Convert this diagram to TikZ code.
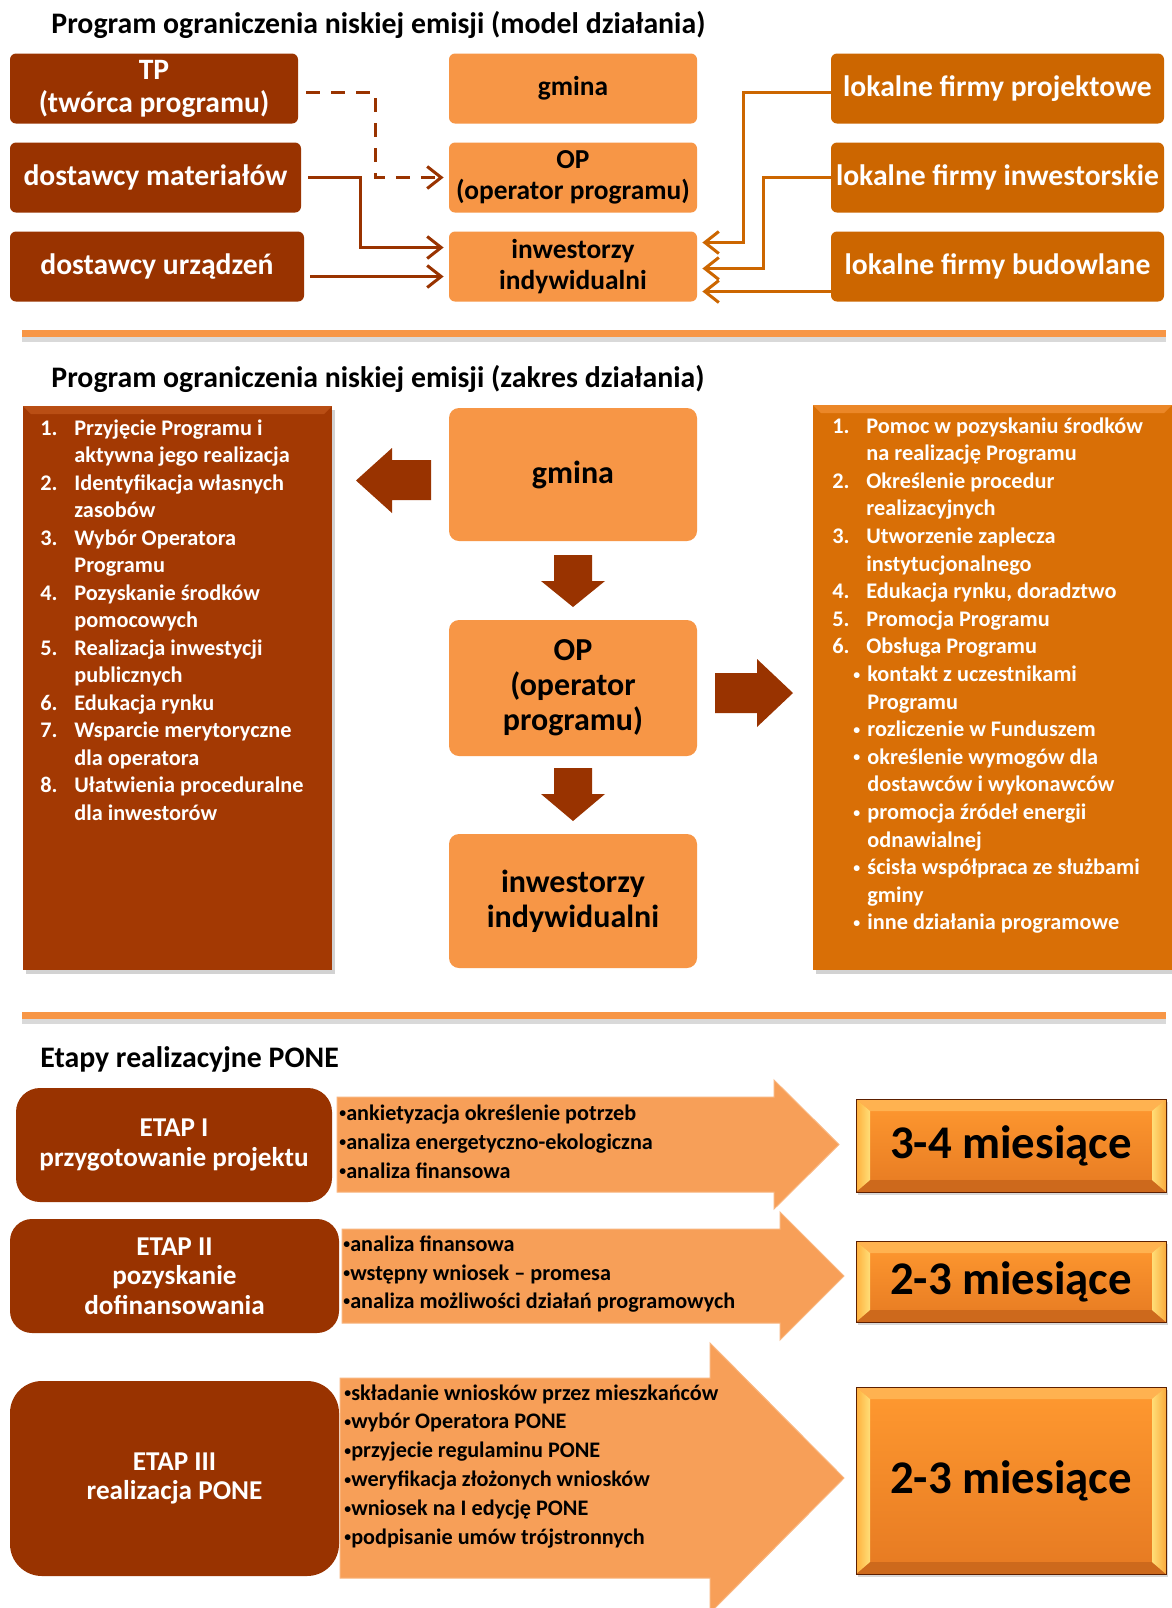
\documentclass[tikz,border=0pt]{standalone}
\usepackage{fontspec}
\setmainfont{Carlito}
\usetikzlibrary{arrows.meta,shadows,calc}
\definecolor{dbrown}{RGB}{153,51,0}
\definecolor{lorange}{RGB}{247,150,70}
\definecolor{morange}{RGB}{204,102,0}
\definecolor{lbrown}{RGB}{163,57,3}
\definecolor{lbrowntop}{RGB}{185,78,20}
\definecolor{rorange}{RGB}{217,111,6}
\definecolor{rorangetop}{RGB}{235,135,40}
\definecolor{aorange}{RGB}{247,159,88}
\definecolor{bvtop}{RGB}{255,153,48}
\definecolor{bvbot}{RGB}{230,122,34}
\definecolor{bvT}{RGB}{255,178,80}
\definecolor{bvB}{RGB}{205,105,28}
\definecolor{bvS1}{RGB}{255,176,60}
\definecolor{bvS2}{RGB}{255,222,120}
\definecolor{bvS3}{RGB}{250,170,60}
\newcommand{\numbx}[1]{\makebox[17pt][l]{#1}}
\newcommand{\smbul}{\raisebox{0.1em}{\scalebox{0.62}{•}}}
\newcommand{\bulbx}{\makebox[7pt][l]{\smbul}}
\begin{document}
\begin{tikzpicture}[x=0.5pt,y=-0.5pt,
 tbox/.style={rounded corners=3pt, minimum height=35pt, inner sep=0pt, align=center},
 darkbox/.style={tbox, fill=dbrown, text=white, font=\fontsize{14.8}{16.5}\selectfont\bfseries},
 lightbox/.style={tbox, fill=lorange, text=black, minimum width=124pt, font=\fontsize{13.7}{15.2}\selectfont\bfseries},
 midbox/.style={tbox, fill=morange, text=white, minimum width=166.5pt, font=\fontsize{14.8}{16.5}\selectfont\bfseries},
 conn/.style={line width=1.5pt, -{Straight Barb[length=7pt,width=11pt]}},
 ttl/.style={anchor=base west, inner sep=0pt, font=\fontsize{14.9}{17}\selectfont\bfseries},
 sep/.style={line width=3.5pt, lorange},
 sepsh/.style={line width=3.5pt, black, opacity=0.15},
 bigbox/.style={inner sep=0pt, drop shadow={opacity=0.35, shadow xshift=1.5pt, shadow yshift=-2pt}},
 cbox/.style={rounded corners=5pt, fill=lorange, minimum width=124pt, inner sep=0pt, align=center, font=\fontsize{16}{17.5}\selectfont\bfseries},
 blk/.style={fill=dbrown},
 ltxt/.style={anchor=base west, inner sep=0pt, text=white, font=\fontsize{11.15}{13}\selectfont\bfseries},
 atxt/.style={anchor=base west, inner sep=0pt, text=black, font=\fontsize{11.1}{13}\selectfont\bfseries},
 etap/.style={fill=dbrown, text=white, inner sep=0pt, align=center, font=\fontsize{13.6}{14.8}\selectfont\bfseries},
 barrow/.style={fill=aorange, draw=lorange!70!white, line width=0.5pt},
 bevel/.style={draw=dbrown!60!black, line width=0.4pt, inner sep=0pt, top color=bvtop, bottom color=bvbot,
   font=\fontsize{23.4}{26}\selectfont\bfseries, text=black,
   drop shadow={opacity=0.3, shadow xshift=1pt, shadow yshift=-1.5pt},
   path picture={
    \coordinate (NW) at (path picture bounding box.north west);
    \coordinate (NE) at (path picture bounding box.north east);
    \coordinate (SW) at (path picture bounding box.south west);
    \coordinate (SE) at (path picture bounding box.south east);
    \fill[bvT] (NW) -- (NE) -- ([xshift=-7pt,yshift=-6pt]NE) -- ([xshift=7pt,yshift=-6pt]NW) -- cycle;
    \fill[bvB] (SW) -- (SE) -- ([xshift=-7pt,yshift=6pt]SE) -- ([xshift=7pt,yshift=6pt]SW) -- cycle;
    \shade[left color=bvS1, right color=bvS2] (NW) -- ([xshift=7pt,yshift=-6pt]NW) -- ([xshift=7pt,yshift=6pt]SW) -- (SW) -- cycle;
    \shade[left color=bvS2, right color=bvS3] (NE) -- ([xshift=-7pt,yshift=-6pt]NE) -- ([xshift=-7pt,yshift=6pt]SE) -- (SE) -- cycle;
   }},
 topstrip/.style={path picture={\fill[#1] (path picture bounding box.north west) -- (path picture bounding box.north east) -- ([xshift=-4pt,yshift=-4pt]path picture bounding box.north east) -- ([xshift=4pt,yshift=-4pt]path picture bounding box.north west) -- cycle;}}
]
\useasboundingbox[fill=white] (0,0) rectangle (1172,1608);

% ---------- Section 1 ----------
\node[ttl] (t1) at (51,33) {Program ograniczenia niskiej emisji (model działania)};

\node[darkbox, minimum width=144pt] (tp) at (154,88.5) {TP\\(twórca programu)};
\node[darkbox, minimum width=145.5pt] (dm) at (155.5,177.5) {dostawcy materiałów};
\node[darkbox, minimum width=147pt] (du) at (157,266.5) {dostawcy urządzeń};

\node[lightbox] (gm) at (573,88.5) {gmina};
\node[lightbox] (op) at (573,177.5) {OP\\(operator programu)};
\node[lightbox] (inw) at (573,266.5) {inwestorzy\\indywidualni};

\node[midbox] (fp) at (997.5,88.5) {lokalne firmy projektowe};
\node[midbox] (fi) at (997.5,177.5) {lokalne firmy inwestorskie};
\node[midbox] (fb) at (997.5,266.5) {lokalne firmy budowlane};

\draw[conn, dbrown, dash pattern=on 7pt off 5.5pt] ([xshift=4pt,yshift=-1.75pt]tp.east) -- ++(69,0) |- ([xshift=-2.5pt]op.west);
\draw[conn, dbrown] ([xshift=3.5pt]dm.east) -- ++(52,0) |- ([xshift=-2.5pt,yshift=9.5pt]inw.west);
\draw[conn, dbrown] ([xshift=3pt,yshift=-5pt]du.east) -- ([xshift=-2.5pt,yshift=-5pt]inw.west);

\draw[conn, morange] ([yshift=-1.75pt]fp.west) -- ++(-87,0) |- ([xshift=2.5pt,yshift=12pt]inw.east);
\draw[conn, morange] (fi.west) -- ++(-67,0) |- ([xshift=2.5pt,yshift=-1pt]inw.east);
\draw[conn, morange] ([yshift=-12.5pt]fb.west) -- ([xshift=2.5pt,yshift=-12.5pt]inw.east);

\coordinate (s1a) at (22,333.5);
\coordinate (s1b) at (1166,333.5);
\draw[sepsh] ([yshift=-2.5pt]s1a) -- ([yshift=-2.5pt]s1b);
\draw[sep] (s1a) -- (s1b);

% ---------- Section 2 ----------
\node[ttl] (t2) at (51,387) {Program ograniczenia niskiej emisji (zakres działania)};

\node[bigbox, fill=lbrown, minimum width=154.5pt, minimum height=282pt, topstrip=lbrowntop] (lb) at (177.5,688) {};
\node[bigbox, fill=rorange, minimum width=179.5pt, minimum height=282.5pt, topstrip=rorangetop] (rb) at (992.5,687.5) {};

\node[cbox, minimum height=66.5pt] (g2) at (573,474.5) {gmina};
\node[cbox, minimum height=68pt] (o2) at (573,688) {OP\\(operator\\programu)};
\node[cbox, minimum height=67pt] (i2) at (573,901) {inwestorzy\\indywidualni};

\fill[blk] (431,460) -- (392,460) -- (392,448) -- (356,480.5) -- (392,513) -- (392,500) -- (431,500) -- cycle;
\fill[blk] (554,555) -- (592,555) -- (592,581) -- (605,581) -- (573,607) -- (541,581) -- (554,581) -- cycle;
\fill[blk] (554,768) -- (592,768) -- (592,794) -- (605,794) -- (573,821) -- (541,794) -- (554,794) -- cycle;
\fill[blk] (715,673) -- (757,673) -- (757,659) -- (793,693) -- (757,727) -- (757,713) -- (715,713) -- cycle;

\foreach \xx/\txt [count=\i from 0] in {
  40/{\numbx{1.}Przyjęcie Programu i},
  74/{aktywna jego realizacja},
  40/{\numbx{2.}Identyfikacja własnych},
  74/{zasobów},
  40/{\numbx{3.}Wybór Operatora},
  74/{Programu},
  40/{\numbx{4.}Pozyskanie środków},
  74/{pomocowych},
  40/{\numbx{5.}Realizacja inwestycji},
  74/{publicznych},
  40/{\numbx{6.}Edukacja rynku},
  40/{\numbx{7.}Wsparcie merytoryczne},
  74/{dla operatora},
  40/{\numbx{8.}Ułatwienia proceduralne},
  74/{dla inwestorów}}
  \node[ltxt] (L\i) at ({\xx},{435+27.5*\i}) {\txt};

\foreach \xx/\txt [count=\i from 0] in {
  832/{\numbx{1.}Pomoc w pozyskaniu środków},
  866/{na realizację Programu},
  832/{\numbx{2.}Określenie procedur},
  866/{realizacyjnych},
  832/{\numbx{3.}Utworzenie zaplecza},
  866/{instytucjonalnego},
  832/{\numbx{4.}Edukacja rynku, doradztwo},
  832/{\numbx{5.}Promocja Programu},
  832/{\numbx{6.}Obsługa Programu},
  853/{\bulbx kontakt z uczestnikami},
  867/{Programu},
  853/{\bulbx rozliczenie w Funduszem},
  853/{\bulbx określenie wymogów dla},
  867/{dostawców i wykonawców},
  853/{\bulbx promocja źródeł energii},
  867/{odnawialnej},
  853/{\bulbx ścisła współpraca ze służbami},
  867/{gminy},
  853/{\bulbx inne działania programowe}}
  \node[ltxt] (R\i) at ({\xx},{433+27.6*\i}) {\txt};

\coordinate (s2a) at (22,1015);
\coordinate (s2b) at (1166,1015);
\draw[sepsh] ([yshift=-2.5pt]s2a) -- ([yshift=-2.5pt]s2b);
\draw[sep] (s2a) -- (s2b);

% ---------- Section 3 ----------
\node[ttl] (t3) at (40,1067) {Etapy realizacyjne PONE};

\fill[barrow] (337,1097) -- (774,1097) -- (774,1080) -- (839,1144.5) -- (774,1209) -- (774,1192) -- (337,1192) -- cycle;
\fill[barrow] (342,1229) -- (780,1229) -- (780,1212) -- (844,1276) -- (780,1340) -- (780,1323) -- (342,1323) -- cycle;
\fill[barrow] (340,1378) -- (710,1378) -- (710,1343) -- (844,1478) -- (710,1613) -- (710,1578) -- (340,1578) -- cycle;

\node[etap, minimum width=158pt, minimum height=57pt, rounded corners=12pt] (e1) at (174,1145) {ETAP I\\przygotowanie projektu};
\node[etap, minimum width=164.5pt, minimum height=57pt, rounded corners=11pt] (e2) at (174.5,1276) {ETAP II\\pozyskanie\\dofinansowania};
\node[etap, minimum width=164.5pt, minimum height=97.5pt, rounded corners=16pt] (e3) at (174.5,1478.5) {ETAP III\\realizacja PONE};

\node[atxt] (a11) at (339,1120) {\smbul ankietyzacja określenie potrzeb};
\node[atxt] (a12) at (339,1149) {\smbul analiza energetyczno-ekologiczna};
\node[atxt] (a13) at (339,1178) {\smbul analiza finansowa};

\node[atxt] (a21) at (343,1251) {\smbul analiza finansowa};
\node[atxt] (a22) at (343,1280) {\smbul wstępny wniosek – promesa};
\node[atxt] (a23) at (343,1308) {\smbul analiza możliwości działań programowych};

\node[atxt] (a31) at (344,1400) {\smbul składanie wniosków przez mieszkańców};
\node[atxt] (a32) at (344,1428.8) {\smbul wybór Operatora PONE};
\node[atxt] (a33) at (344,1457.6) {\smbul przyjecie regulaminu PONE};
\node[atxt] (a34) at (344,1486.4) {\smbul weryfikacja złożonych wniosków};
\node[atxt] (a35) at (344,1515.2) {\smbul wniosek na I edycję PONE};
\node[atxt] (a36) at (344,1544) {\smbul podpisanie umów trójstronnych};

\node[bevel, minimum width=155pt, minimum height=46.5pt] (m1) at (1011,1145.5) {3-4 miesiące};
\node[bevel, minimum width=155pt, minimum height=40.5pt] (m2) at (1011,1281.5) {2-3 miesiące};
\node[bevel, minimum width=155pt, minimum height=93.5pt] (m3) at (1011,1480.5) {2-3 miesiące};
\end{tikzpicture}
\end{document}
